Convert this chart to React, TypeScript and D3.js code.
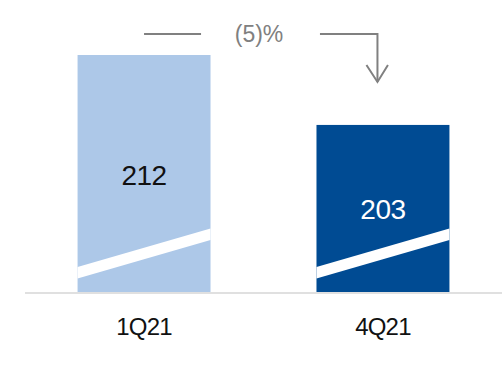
import React from "react";
import * as d3 from "d3";

const categories = ["1Q21", "4Q21"];
const values = [212, 203];
const valueLabels = ["212", "203"];
const changeLabel = "(5)%";

const W = 502;
const H = 387;
const colors = ["#adc8e8", "#004b93"];
const labelColors = ["#111111", "#ffffff"];

export default function App() {
  const x = d3
    .scaleBand<string>()
    .domain(categories)
    .range([25, 502])
    .paddingInner(0.4435)
    .paddingOuter(0.22);
  // broken axis: does not start at zero
  const y = d3.scaleLinear().domain([181.5, 212]).range([292, 55]);
  const base = y(181.5);
  const bw = x.bandwidth();

  const c0 = (x(categories[0]) ?? 0) + bw / 2;
  const c1 = (x(categories[1]) ?? 0) + bw / 2;

  return (
    <svg
      width={W}
      height={H}
      style={{ position: "absolute", left: 0, top: 0 }}
      fontFamily="'Liberation Sans', Arial, Helvetica, sans-serif"
    >
      <rect width={W} height={H} fill="#ffffff" />
      <line x1={25} x2={502} y1={293} y2={293} stroke="#e0e0e0" strokeWidth={2} />
      {categories.map((c, i) => {
        const bx = x(c) ?? 0;
        const top = y(values[i]);
        const stripe = `M${bx},${base - 25} L${bx + bw},${base - 63.5} L${bx + bw},${base - 52} L${bx},${base - 13.5} Z`;
        return (
          <g key={c}>
            <rect x={bx} y={top} width={bw} height={base - top} fill={colors[i]} />
            <path d={stripe} fill="#ffffff" />
            <text
              x={bx + bw / 2}
              y={i === 0 ? 185 : 219}
              textAnchor="middle"
              fontSize={28}
              fill={labelColors[i]}
              letterSpacing={-0.5}
            >
              {valueLabels[i]}
            </text>
            <text
              x={bx + bw / 2}
              y={335}
              textAnchor="middle"
              fontSize={24}
              fill="#111111"
              letterSpacing={-0.8}
            >
              {c}
            </text>
          </g>
        );
      })}
      <g stroke="#808080" strokeWidth={2} fill="none">
        <line x1={c0} x2={c0 + 57} y1={34} y2={34} />
        <polyline points={`${c1 - 63},34 ${c1 - 5.5},34 ${c1 - 5.5},82`} />
        <polyline points={`${c1 - 16.5},65 ${c1 - 5.5},82 ${c1 + 5},65`} />
      </g>
      <text
        x={(c0 + c1) / 2 - 4.5}
        y={42}
        textAnchor="middle"
        fontSize={23}
        fill="#808080"
      >
        {changeLabel}
      </text>
    </svg>
  );
}
